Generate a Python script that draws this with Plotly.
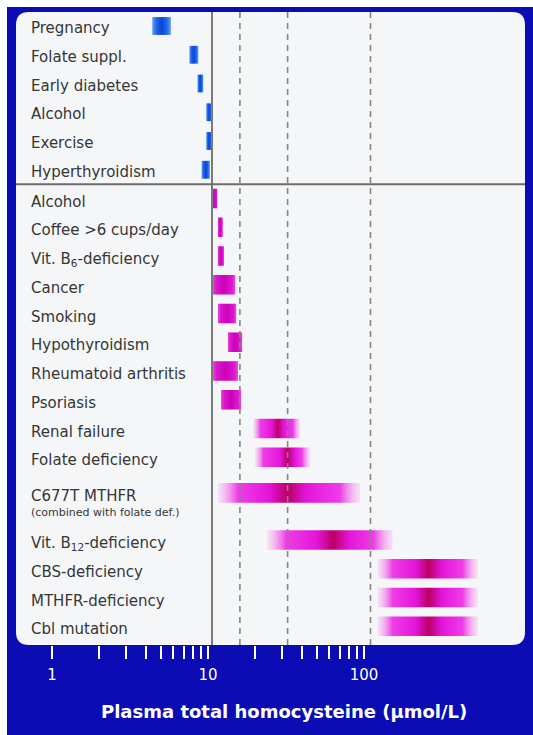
import math
import plotly.graph_objects as go

# ---------------- data ----------------
upper_labels = ["Pregnancy", "Folate suppl.", "Early diabetes", "Alcohol", "Exercise", "Hyperthyroidism"]
upper_low = [4.2, 7.2, 8.1, 9.2, 9.2, 8.6]
upper_high = [5.5, 8.2, 8.8, 10.0, 10.0, 9.7]

lower_labels = ["Alcohol", "Coffee >6 cups/day", "Vit. B<sub>6</sub>-deficiency", "Cancer", "Smoking",
                "Hypothyroidism", "Rheumatoid arthritis", "Psoriasis", "Renal failure",
                "Folate deficiency", "C677T MTHFR", "Vit. B<sub>12</sub>-deficiency",
                "CBS-deficiency", "MTHFR-deficiency", "Cbl mutation"]
lower_low = [10.0, 10.9, 10.9, 10.1, 10.9, 12.6, 10.1, 11.4, 18.2, 18.7, 10.9, 22.3, 111, 111, 111]
lower_high = [10.8, 11.7, 11.9, 14.0, 14.2, 15.5, 14.6, 15.3, 36, 41.7, 86, 138, 475, 475, 475]
lower_peak = [10.4, 11.3, 11.4, 11.9, 12.4, 14.0, 12.1, 13.2, 26, 30, 30, 58, 233, 233, 233]
lower_notes = {"C677T MTHFR": "(combined with folate def.)"}

solid_ref = [10]
dashed_refs = [15, 30, 100]

tick_vals = [1, 10, 100]
tick_text = ["1", "10", "100"]
minor_vals = [2, 3, 4, 5, 6, 7, 8, 9, 20, 30, 40, 50, 60, 70, 80, 90]

x_title = "Plasma total homocysteine (μmol/L)"

# ---------------- layout constants (page pixels; body margin removed) ----------------
W, H = 533, 735
PANEL_L, PANEL_R, PANEL_T, PANEL_B = 16, 525, 12, 645
ML, MR, MT, MB = PANEL_L, W - PANEL_R, PANEL_T, H - PANEL_B
PW, PH = PANEL_R - PANEL_L, PANEL_B - PANEL_T
BLUE = "#0b0cb3"
PANEL = "#f4f6f8"
EDGE = 7  # white strip at top and left of the original scan
LABEL_FONT = dict(family="DejaVu Sans", size=15, color="#363636")

# row slot positions
slots_upper = list(range(len(upper_labels)))
slots_lower = []
s = len(upper_labels)
for lab in lower_labels:
    if lab in lower_notes:
        slots_lower.append(s + 0.24)
        s += 1.88
    else:
        slots_lower.append(s)
        s += 1
ROW_PX, ROW0 = 28.75, 26
YRANGE = [(PANEL_B - ROW0) / ROW_PX, (PANEL_T - ROW0) / ROW_PX]


def rect_trace(lo, hi, y, half, colorscale):
    return go.Scatter(
        x=[lo, hi, hi, lo, lo],
        y=[y - half, y - half, y + half, y + half, y - half],
        mode="lines", fill="toself",
        line=dict(width=0, color="rgba(0,0,0,0)"),
        fillgradient=dict(type="horizontal", colorscale=colorscale),
        hoverinfo="skip", showlegend=False,
    )


fig = go.Figure()

blue_cs = [[0, "#5d9cf5"], [0.25, "#1c62e8"], [0.5, "#0a46d6"], [0.75, "#1c62e8"], [1, "#5d9cf5"]]
for lo, hi, y in zip(upper_low, upper_high, slots_upper):
    fig.add_trace(rect_trace(lo, hi, y, 0.31, blue_cs))

small_cs = [[0, "#e54ede"], [0.15, "#dc16d2"], [0.5, "#cc02b6"], [0.85, "#dc16d2"], [1, "#e54ede"]]
for lo, hi, pk, y in zip(lower_low, lower_high, lower_peak, slots_lower):
    if hi / lo < 1.8:
        cs = small_cs
    else:
        span = math.log10(hi / lo)
        c = math.log10(pk / lo) / span
        width_px = 158.5 * span
        f = min(0.15, 20 / width_px)
        d = 0.13
        cs = [[0, "rgba(244,170,238,0.25)"], [f, "#ee3ee6"], [max(f + 0.01, c - d), "#e414da"],
              [c, "#bc0066"], [min(1 - f - 0.01, c + d), "#e414da"], [1 - f, "#ee3ee6"],
              [1, "rgba(244,170,238,0.25)"]]
    fig.add_trace(rect_trace(lo, hi, y, 0.34, cs))

# invisible carrier so the bottom tick axis is drawn
fig.add_trace(go.Scatter(x=tick_vals, y=[None] * len(tick_vals), xaxis="x2", mode="markers",
                         marker=dict(opacity=0), hoverinfo="skip", showlegend=False))

shapes = []
# blue background leaving the thin white strip at top/left
shapes.append(dict(type="rect", xref="paper", yref="paper",
                   x0=(EDGE - PANEL_L) / PW, x1=(W + 5 - PANEL_L) / PW,
                   y0=(PANEL_B - H - 5) / PH, y1=(PANEL_B - EDGE) / PH,
                   fillcolor=BLUE, line=dict(width=0), layer="below"))
r = 13
rx, ry = r / PW, r / PH
path = (f"M {rx},1 L {1-rx},1 Q 1,1 1,{1-ry} L 1,{ry} Q 1,0 {1-rx},0 "
        f"L {rx},0 Q 0,0 0,{ry} L 0,{1-ry} Q 0,1 {rx},1 Z")
shapes.append(dict(type="path", xref="paper", yref="paper", path=path,
                   fillcolor=PANEL, line=dict(width=0), layer="below"))
for v in dashed_refs:
    shapes.append(dict(type="line", xref="x", yref="paper", x0=v, x1=v, y0=0, y1=1,
                       line=dict(color="#858585", width=1.6, dash="6px,5px"), layer="above"))
for v in solid_ref:
    shapes.append(dict(type="line", xref="x", yref="paper", x0=v, x1=v, y0=0, y1=1,
                       line=dict(color="#7a7a7a", width=2), layer="above"))
sep_y = (slots_upper[-1] + slots_lower[0]) / 2
shapes.append(dict(type="line", xref="paper", yref="y", x0=0, x1=1, y0=sep_y, y1=sep_y,
                   line=dict(color="#6b6b6b", width=2), layer="above"))

annotations = []
lx = (29 - PANEL_L) / PW
for lab, y in zip(upper_labels, slots_upper):
    annotations.append(dict(text=lab, x=lx, y=y, xref="paper", yref="y", xanchor="left",
                            yanchor="middle", showarrow=False, font=LABEL_FONT, yshift=-2))
for lab, y in zip(lower_labels, slots_lower):
    annotations.append(dict(text=lab, x=lx, y=y, xref="paper", yref="y", xanchor="left",
                            yanchor="middle", showarrow=False, font=LABEL_FONT, yshift=-3))
    if lab in lower_notes:
        annotations.append(dict(text=lower_notes[lab], x=lx, y=y, xref="paper", yref="y",
                                xanchor="left", yanchor="middle", showarrow=False,
                                font=dict(family="DejaVu Sans", size=11, color="#363636"),
                                yshift=-20))
annotations.append(dict(text=x_title, x=(284 - PANEL_L) / PW, y=(PANEL_B - 711) / PH,
                        xref="paper", yref="paper", xanchor="center", yanchor="middle",
                        showarrow=False,
                        font=dict(family="DejaVu Sans", size=18, color="white", weight="bold")))

fig.update_layout(
    width=W, height=H,
    margin=dict(l=ML, r=MR, t=MT, b=MB, pad=0),
    paper_bgcolor="white", plot_bgcolor="rgba(0,0,0,0)",
    shapes=shapes, annotations=annotations, showlegend=False,
    xaxis=dict(type="log", range=[1 + (PANEL_L - 212) / 158.5, 1 + (PANEL_R - 212) / 158.5],
               showgrid=False, showticklabels=False, ticks="", zeroline=False, showline=False,
               fixedrange=True),
    xaxis2=dict(type="log", overlaying="x", anchor="y", side="bottom",
                range=[(PANEL_L - 52) / 156, (PANEL_R - 52) / 156],
                tickmode="array", tickvals=tick_vals, ticktext=tick_text,
                ticks="outside", ticklen=13, tickwidth=2, tickcolor="white",
                tickfont=dict(family="DejaVu Sans", size=15, color="white"),
                ticklabelstandoff=3,
                minor=dict(tickvals=minor_vals, ticks="outside", ticklen=13, tickwidth=2,
                           tickcolor="white", showgrid=False),
                showgrid=False, zeroline=False, showline=False, fixedrange=True),
    yaxis=dict(range=YRANGE, visible=False, showgrid=False, zeroline=False, fixedrange=True),
)

fig.write_html("out.html", config={"displayModeBar": False},
               post_script="document.documentElement.style.overflow='hidden';"
                           "document.body.style.overflow='hidden';"
                           "document.body.style.margin='0';document.body.style.padding='0';")
